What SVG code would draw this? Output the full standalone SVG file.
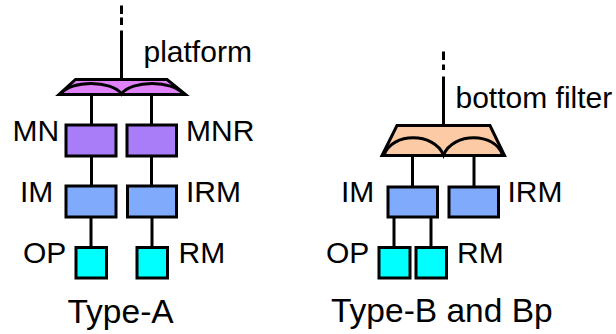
<svg xmlns="http://www.w3.org/2000/svg" width="616" height="334" viewBox="0 0 616 334">
<style>
.s{stroke:#000;stroke-width:3;fill:none}
.b{stroke:#000;stroke-width:3}
.mn{fill:#a97cf8}
.im{fill:#80aafc}
.op{fill:#00ffff}
.pf{fill:#e083f8}
.bf{fill:#fccba6}
text{font-family:"Liberation Sans",Arial,sans-serif;font-size:30px;fill:#000}
.t{font-size:33.5px}
</style>
<rect width="616" height="334" fill="#fff"/>
<g id="connectors">
<line class="s" x1="121.5" y1="5.5" x2="121.5" y2="14"/>
<line class="s" x1="121.5" y1="17.5" x2="121.5" y2="25"/>
<line class="s" x1="121.5" y1="30.5" x2="121.5" y2="80"/>
<line class="s" x1="91.5" y1="95" x2="91.5" y2="125"/>
<line class="s" x1="151.5" y1="95" x2="151.5" y2="125"/>
<line class="s" x1="91.5" y1="156" x2="91.5" y2="186"/>
<line class="s" x1="151.5" y1="156" x2="151.5" y2="186"/>
<line class="s" x1="91" y1="217" x2="91" y2="247"/>
<line class="s" x1="152" y1="217" x2="152" y2="247"/>
<line class="s" x1="443.5" y1="51.5" x2="443.5" y2="60"/>
<line class="s" x1="443.5" y1="64.5" x2="443.5" y2="70"/>
<line class="s" x1="443.5" y1="76.5" x2="443.5" y2="126"/>
<line class="s" x1="412.5" y1="156" x2="412.5" y2="187"/>
<line class="s" x1="474" y1="156" x2="474" y2="187"/>
<line class="s" x1="394" y1="217" x2="394" y2="247"/>
<line class="s" x1="431" y1="217" x2="431" y2="247"/>
</g>
<g id="typeA">
<g id="platform">
<path class="b pf" d="M75.5,79.5 L167,79.5 L185.5,94.5 L59,94.5 Z"/>
<path class="s" d="M61,94 C70,80 112,80 121.5,94 C131,80 173,80 183,94"/>
<text x="143.5" y="62">platform</text>
</g>
<g id="MN"><rect class="b mn" x="66" y="125" width="50" height="31"/><text x="12.5" y="140.5">MN</text></g>
<g id="MNR"><rect class="b mn" x="127" y="125" width="49.5" height="31"/><text x="186" y="140.5">MNR</text></g>
<g id="IM-A"><rect class="b im" x="66" y="186" width="50" height="31"/><text x="20" y="201.5">IM</text></g>
<g id="IRM-A"><rect class="b im" x="127.5" y="186" width="49" height="31"/><text x="186" y="201.5">IRM</text></g>
<g id="OP-A"><rect class="b op" x="76" y="247.5" width="30.5" height="30.5"/><text x="23" y="262.5">OP</text></g>
<g id="RM-A"><rect class="b op" x="137" y="247.5" width="30.5" height="30.5"/><text x="178.5" y="262.5">RM</text></g>
<text class="t" x="67.5" y="323">Type-A</text>
</g>
<g id="typeB">
<g id="bottomfilter">
<path class="b bf" d="M397,125.5 L490,125.5 L504.5,155.5 L382,155.5 Z"/>
<path class="s" d="M384,155 C392,132 434,132 443.5,155 C453,132 495,132 502.5,155"/>
<text x="455.5" y="108">bottom filter</text>
</g>
<g id="IM-B"><rect class="b im" x="388" y="187" width="49.5" height="30"/><text x="341" y="202">IM</text></g>
<g id="IRM-B"><rect class="b im" x="449" y="187" width="49.5" height="30"/><text x="507.5" y="202">IRM</text></g>
<g id="OP-B"><rect class="b op" x="379" y="247.5" width="31" height="30.5"/><text x="326" y="262.5">OP</text></g>
<g id="RM-B"><rect class="b op" x="416" y="247.5" width="30.5" height="30.5"/><text x="457" y="262.5">RM</text></g>
<text class="t" x="331" y="321.5">Type-B and Bp</text>
</g>
</svg>
